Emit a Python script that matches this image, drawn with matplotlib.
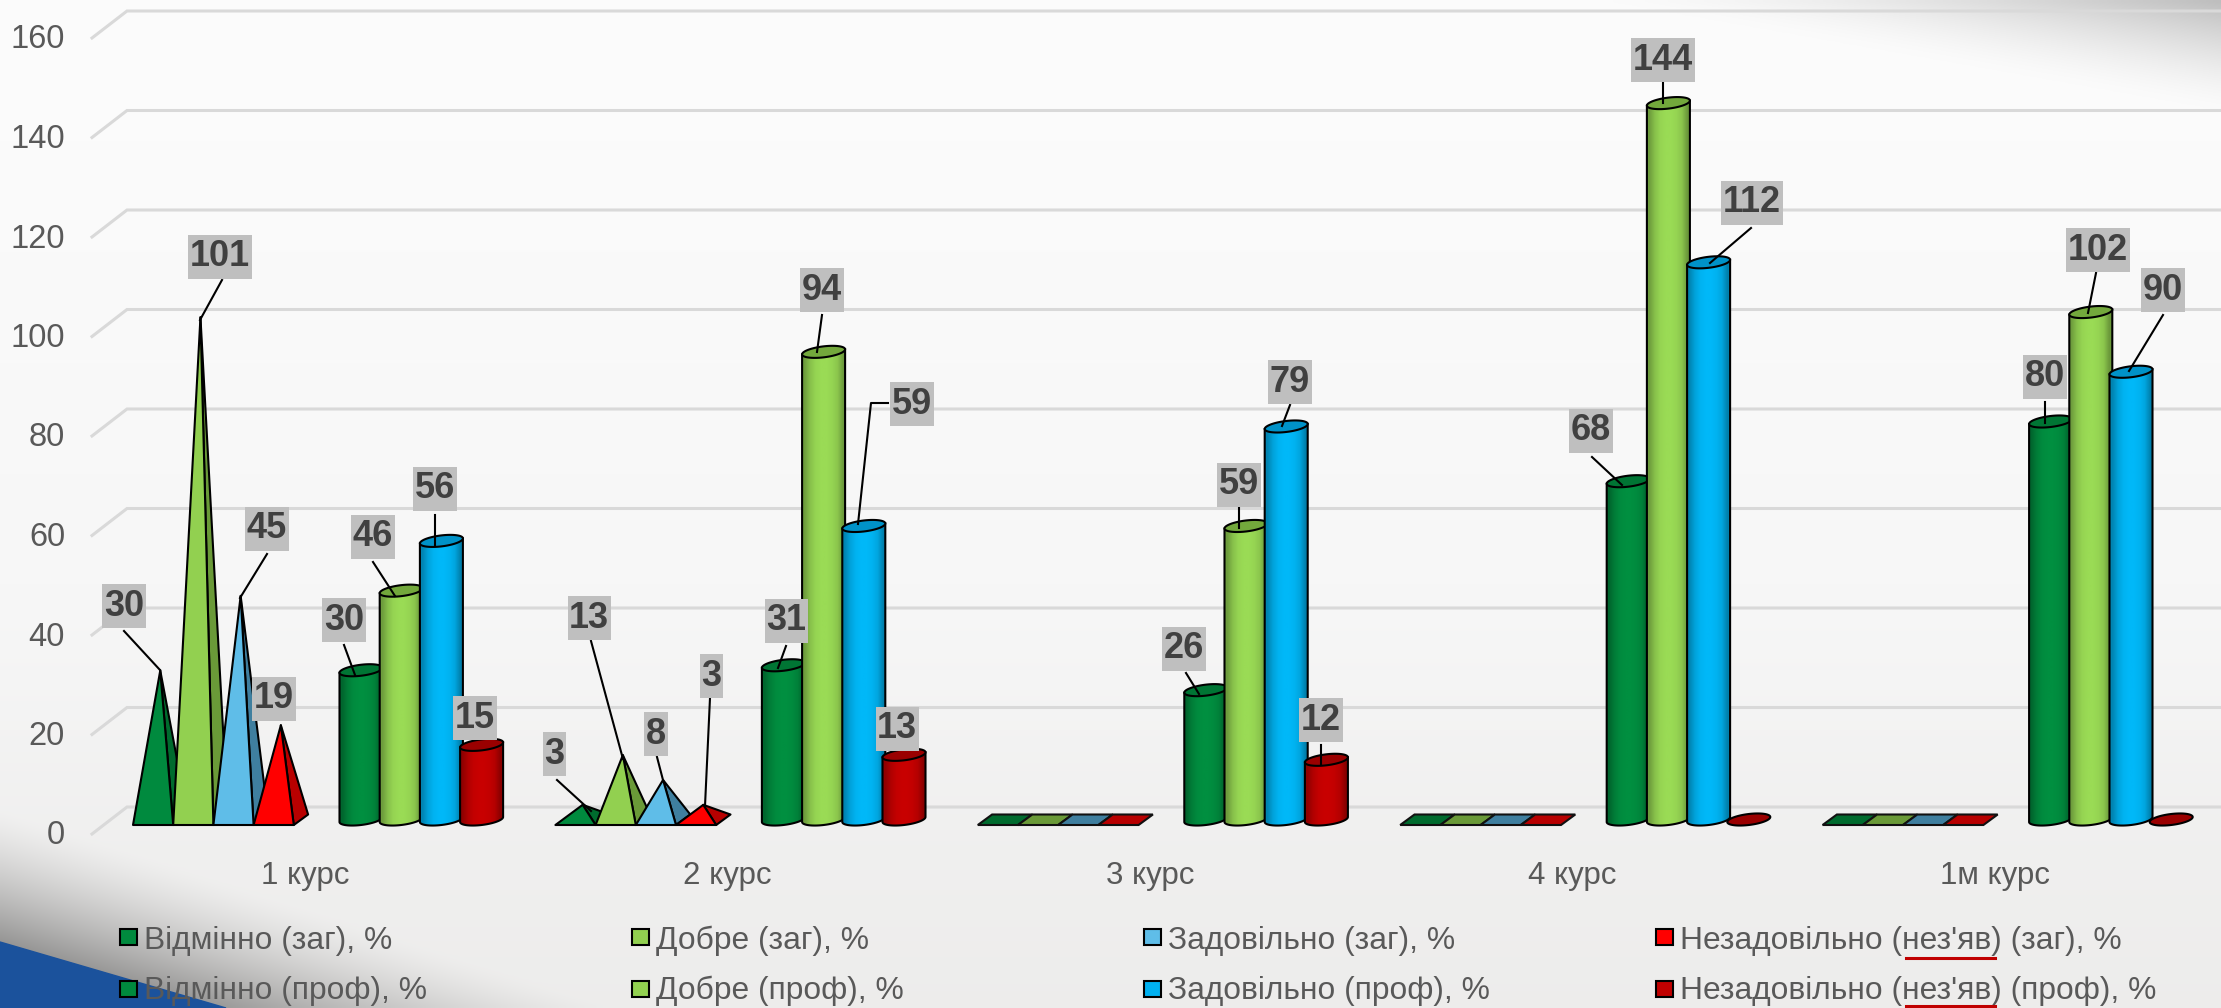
import numpy as np
import matplotlib
matplotlib.use("Agg")
import matplotlib.pyplot as plt
from matplotlib.colors import to_rgb
from matplotlib.patches import Polygon, Rectangle

plt.rcParams['font.family'] = ['Liberation Sans', 'DejaVu Sans']

courses = ['1 курс', '2 курс', '3 курс', '4 курс', '1м курс']

vidminno_zag = [30, 3, 0, 0, 0]
dobre_zag = [101, 13, 0, 0, 0]
zadov_zag = [45, 8, 0, 0, 0]
nezadov_zag = [19, 3, 0, 0, 0]
vidminno_prof = [30, 31, 26, 68, 80]
dobre_prof = [46, 94, 59, 144, 102]
zadov_prof = [56, 59, 79, 112, 90]
nezadov_prof = [15, 13, 12, 0, 0]

legend_names = ['Відмінно (заг), %', 'Добре (заг), %', 'Задовільно (заг), %', "Незадовільно (нез'яв) (заг), %",
                'Відмінно (проф), %', 'Добре (проф), %', 'Задовільно (проф), %', "Незадовільно (нез'яв) (проф), %"]
y_ticks = [0, 20, 40, 60, 80, 100, 120, 140, 160]

pyr_series = [vidminno_zag, dobre_zag, zadov_zag, nezadov_zag]
cyl_series = [vidminno_prof, dobre_prof, zadov_prof, nezadov_prof]

pyr_front = ['#008A3E', '#92D050', '#5FBDE8', '#FF0000']
pyr_side = ['#006B2E', '#6A9A38', '#3F7F9F', '#B80000']
cyl_body = ['#008F40', '#9ADB55', '#00B8F8', '#C80000']
cyl_top = ['#007534', '#73A83C', '#0092C8', '#9A0000']
legend_cols = pyr_front + ['#008A3E', '#92D050', '#00B0F0', '#C00000']

# picture pixels <-> data
PX_CAT = 422.4
PX_VAL = 4.975


def X(px):
    return (px - 305) / PX_CAT


def Y(py):
    return (825 - py) / PX_VAL


W, H = 2221, 1008
fig = plt.figure(figsize=(W / 100, H / 100), dpi=100)
ax = fig.add_axes([0, 0, 1, 1])
ax.axis('off')

# slide background
xx, yy = np.meshgrid(np.arange(0, W, 4), np.arange(0, H, 4))
base = np.interp(yy, [0, 120, 600, 850, 1008], [0.985, 0.985, 0.968, 0.94, 0.93])
s1 = xx / 620 + (H - yy) / 200
s2 = (W - xx) / 620 + yy / 110
shade = 0.62 * np.clip(1 - s1, 0, 1) ** 1.4 + 0.24 * np.clip(1 - s2, 0, 1) ** 1.5
grey = np.clip(base - shade, 0, 1)
warm = np.interp(yy, [600, 1008], [0, 0.006])
bg = np.dstack([grey, grey - warm * 0.4, grey - warm])
ax.imshow(np.clip(bg, 0, 1), extent=(X(0), X(W), Y(H), Y(0)), aspect='auto',
          origin='upper', interpolation='bilinear', zorder=0)
ax.fill([X(0), X(226), X(0)], [Y(942), Y(1008), Y(1008)], color='#1B529C', zorder=0.5)

# walls
back_dy = 18 / PX_VAL
front_dy = 9 / PX_VAL
for t in y_ticks:
    ax.plot([X(92), X(127), X(W)], [t - front_dy, t + back_dy, t + back_dy], color='#D9D9D9', lw=2.2, zorder=1,
            solid_joinstyle='miter')
    ax.text(X(65), t - front_dy - 2 / PX_VAL, str(t), ha='right', va='center', fontsize=23.5, color='#595959',
            zorder=2)

for i, c in enumerate(courses):
    ax.text(i, Y(876), c, ha='center', va='center', fontsize=22.5, color='#595959', zorder=2)

bar_w = 40.2 / PX_CAT
depth_x = 14.3 / PX_CAT
depth_y = 10.5 / PX_VAL
pyr_start = -172 / PX_CAT
cyl_start = 35 / PX_CAT
lw = 1.5

for i in range(len(courses)):
    # pyramids
    for k, vals in enumerate(pyr_series):
        v = vals[i]
        x0 = i + pyr_start + k * bar_w
        x1 = x0 + bar_w
        z = 3 + 0.1 * k
        if v == 0:
            ax.add_patch(Polygon([(x0, 0), (x1, 0), (x1 + depth_x, depth_y), (x0 + depth_x, depth_y)],
                                 fc=pyr_side[k], ec='#111111', lw=lw, zorder=z))
            continue
        apex = (x0 + bar_w / 2 + depth_x / 2, v + depth_y / 2)
        ax.add_patch(Polygon([(x1, 0), (x1 + depth_x, depth_y), apex], fc=pyr_side[k], ec='black', lw=lw,
                             joinstyle='round', zorder=z))
        ax.add_patch(Polygon([(x0, 0), (x1, 0), apex], fc=pyr_front[k], ec='black', lw=lw,
                             joinstyle='round', zorder=z + 0.01))
    # cylinders
    for k, vals in enumerate(cyl_series):
        v = vals[i]
        x0 = i + cyl_start + k * bar_w
        z = 4 + 0.1 * k
        cx = x0 + 21 / PX_CAT
        a = 21.5 / PX_CAT
        b = 5.5 / PX_VAL
        skew = 2.5 / PX_VAL
        t = np.linspace(0, 2 * np.pi, 80)
        ex = a * np.cos(t)
        ey = b * np.sin(t) + skew * np.cos(t)
        top_c = v + b
        if v > 0:
            t2 = np.linspace(np.pi, 2 * np.pi, 40)
            low_x = cx + a * np.cos(t2)
            low_y = b + b * np.sin(t2) + skew * np.cos(t2)
            t3 = np.linspace(2 * np.pi, np.pi, 40)
            up_x = cx + a * np.cos(t3)
            up_y = top_c + skew * np.cos(t3)
            body = np.column_stack([np.r_[low_x, up_x], np.r_[low_y, up_y]])
            rgb = np.array(to_rgb(cyl_body[k]))
            sh = np.array([0.72, 0.88, 0.97, 1.0, 1.0, 0.97, 0.9, 0.7])
            im = ax.imshow((sh[:, None] * rgb)[None, :, :], extent=(cx - a, cx + a, 0, top_c + b), aspect='auto',
                           interpolation='bilinear', zorder=z)
            patch = Polygon(body, fc='none', ec='black', lw=lw, zorder=z + 0.01)
            ax.add_patch(patch)
            im.set_clip_path(patch)
        ax.add_patch(Polygon(np.column_stack([cx + ex, top_c + ey]), fc=cyl_top[k], ec='black', lw=lw,
                             zorder=z + 0.02))

# data labels, centre of box in picture pixels, in series order per course
label_px = [
    [(124, 606), (220, 257), (267, 529), (274, 699), (344, 620), (373, 537), (435, 489), (475, 718)],
    [(554, 754), (589, 618), (656, 734), (711, 676), (786, 621), (822, 290), (912, 404), (897, 729)],
    [None, None, None, None, (1184, 649), (1239, 485), (1290, 382), (1321, 720)],
    [None, None, None, None, (1591, 431), (1663, 60), (1752, 203), None],
    [None, None, None, None, (2045, 377), (2098, 250), (2163, 290), None],
]
leader_px = [
    [[(124, 631), (160, 670)], [(222, 280), (200, 320)], [(267, 554), (240, 598)], None,
     [(344, 645), (355, 675)], [(373, 562), (395, 596)], [(435, 515), (435, 546)], None],
    [[(557, 780), (591, 811)], [(591, 641), (623, 759)], [(657, 757), (663, 780)], [(710, 698), (705, 806)],
     [(786, 646), (778, 668)], [(822, 315), (817, 352)], [(888, 403), (871, 403), (858, 524)], None],
    [None, None, None, None, [(1186, 673), (1199, 694)], [(1239, 508), (1239, 528)], [(1290, 405), (1282, 426)],
     [(1321, 745), (1321, 765)]],
    [None, None, None, None, [(1592, 457), (1622, 485)], [(1663, 83), (1663, 103)], [(1751, 228), (1710, 263)], None],
    [None, None, None, None, [(2045, 402), (2045, 423)], [(2096, 273), (2088, 313)], [(2163, 315), (2129, 371)], None],
]

all_series = pyr_series + cyl_series
renderer = fig.canvas.get_renderer()
for i in range(len(courses)):
    for k, vals in enumerate(all_series):
        if label_px[i][k] is None:
            continue
        px, py = label_px[i][k]
        txt = ax.text(X(px), Y(py), str(vals[i]), ha='center', va='center', fontsize=26, fontweight='bold',
                      color='#404040', zorder=7)
        tw = txt.get_window_extent(renderer).width + 3
        ax.add_patch(Rectangle((X(px - tw / 2), Y(py + 22)), tw / PX_CAT, 44 / PX_VAL, fc='#BFBFBF', ec='none',
                               zorder=6))
        if leader_px[i][k] is not None:
            pts = np.array(leader_px[i][k], dtype=float)
            ax.plot(X(pts[:, 0]), Y(pts[:, 1]), color='black', lw=1.5, zorder=5.5)

# legend
leg_x = [120, 632, 1144, 1656]
mark_y = [937, 989]
text_y = [941, 991]
for n, name in enumerate(legend_names):
    lx = leg_x[n % 4]
    ax.add_patch(Rectangle((X(lx), Y(mark_y[n // 4] + 8)), 17 / PX_CAT, 16 / PX_VAL, fc=legend_cols[n], ec='black',
                           lw=1.5, zorder=5))
    ax.text(X(lx + 24), Y(text_y[n // 4]), name, ha='left', va='center', fontsize=22.9, color='#595959', zorder=5)
for uy in (958, 1006):
    ax.plot([X(1906), X(1995)], [Y(uy), Y(uy)], color='#C00000', lw=2.2, zorder=6)

ax.set_xlim(X(0), X(W))
ax.set_ylim(Y(H), Y(0))

fig.savefig('out.png', dpi=100)
